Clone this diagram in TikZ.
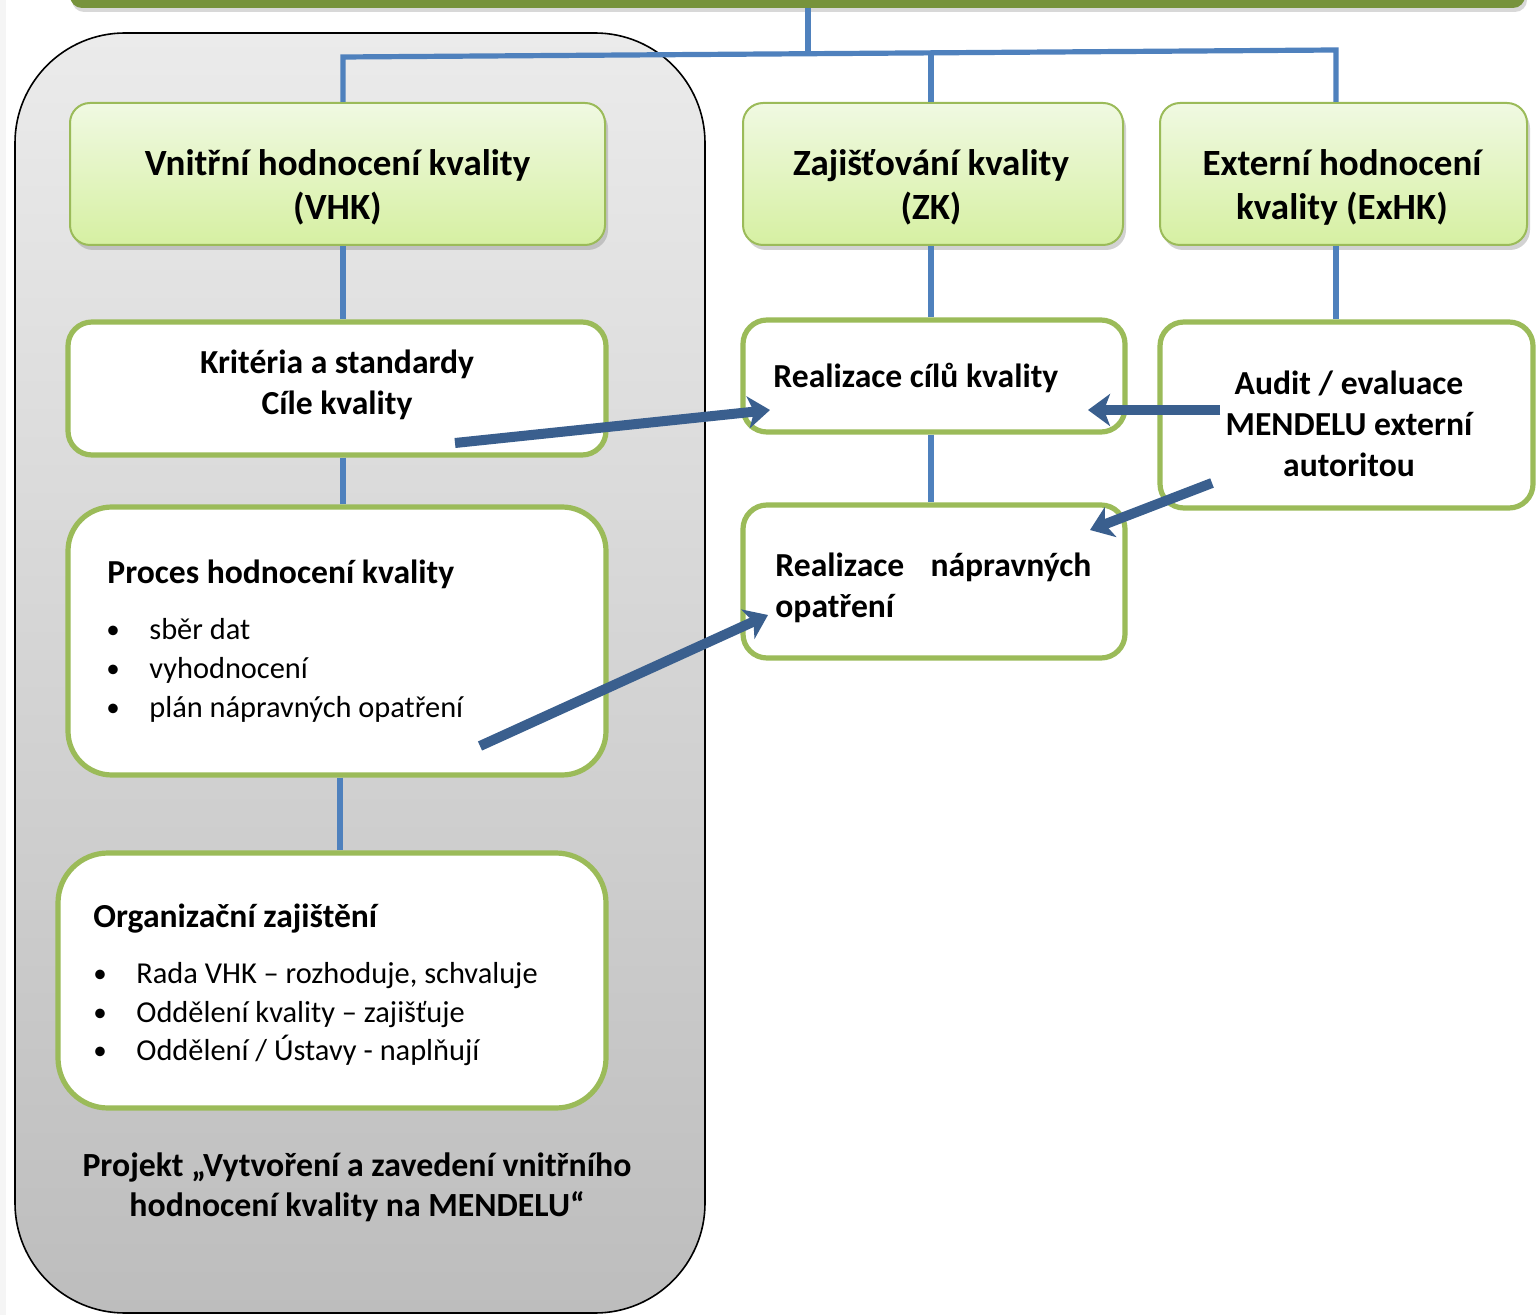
\documentclass[tikz,border=0pt]{standalone}
\usepackage{fontspec}
\setmainfont{Carlito}
\usetikzlibrary{arrows.meta,shadows,calc}
\definecolor{barGreen}{HTML}{77933C}
\definecolor{boxGreen}{HTML}{9BBB59}
\definecolor{hdrTop}{HTML}{F0F9E2}
\definecolor{hdrBot}{HTML}{D6F0A2}
\definecolor{treeBlue}{HTML}{4F81BD}
\definecolor{arrBlue}{HTML}{3A5F8E}
\definecolor{grayTop}{HTML}{EBEBEB}
\definecolor{grayBot}{HTML}{BDBDBD}
\begin{document}
\begin{tikzpicture}[x=0.5pt,y=-0.5pt,
  hdrbox/.style={draw=boxGreen,line width=1pt,rounded corners=10pt,top color=hdrTop,bottom color=hdrBot,
    drop shadow={opacity=0.35,shadow xshift=1.5pt,shadow yshift=-2.5pt}},
  whitebox/.style={draw=boxGreen,line width=2.6pt,fill=white,rounded corners=#1},
  whitebox/.default=12pt,
  tree/.style={draw=treeBlue,line width=2.6pt},
  bigarrow/.style={draw=arrBlue,line width=5pt,-{Stealth[length=11pt,width=16pt,inset=3pt]}},
  hdrtxt/.style={font=\fontsize{18.5}{22}\selectfont\bfseries,align=center},
  boldtxt/.style={font=\fontsize{16.8}{20.5}\selectfont\bfseries,inner sep=0pt},
  normtxt/.style={font=\fontsize{15.2}{19.5}\selectfont,inner sep=0pt},
  bul/.style={font=\fontsize{13.5}{19.5}\selectfont,anchor=base}
]
\useasboundingbox (0,0) rectangle (1536,1315);
\fill[white] (0,0) rectangle (1536,1315);
\fill[gray!8] (0,0) rectangle (6,1315);

% top bar
\node[fill=barGreen,rounded corners=6pt,minimum width=727.5pt,minimum height=19pt,inner sep=0pt,
  drop shadow={opacity=0.3,shadow xshift=1pt,shadow yshift=-2pt}] (bar) at (797.5,-11) {};

% gray container
\node[draw=black,line width=0.8pt,top color=grayTop,bottom color=grayBot,rounded corners=55pt,
  minimum width=345pt,minimum height=640pt,inner sep=0pt] (cont) at (360,673) {};

% header boxes
\node[hdrbox,minimum width=267.5pt,minimum height=71pt] (vhk) at (337.5,174) {};
\node[hdrbox,minimum width=190pt,minimum height=71pt] (zk) at (933,174) {};
\node[hdrbox,minimum width=183.5pt,minimum height=71pt] (exhk) at (1343.5,174) {};
\node[hdrtxt] (vhkt) at (337.5,187) {Vnitřní hodnocení kvality\\(VHK)};
\node[hdrtxt] (zkt) at (931,187) {Zajišťování kvality\\(ZK)};
\node[hdrtxt] (exhkt) at (1342,187) {Externí hodnocení\\kvality (ExHK)};

% second row boxes
\node[whitebox,minimum width=269pt,minimum height=66.5pt] (krit) at (337,388.5) {};
\node[whitebox,minimum width=191pt,minimum height=56pt] (rcil) at (934,376) {};
\node[whitebox,minimum width=186.5pt,minimum height=93pt] (audit) at (1346.5,415) {};
\node[whitebox=22pt,minimum width=269pt,minimum height=134pt] (proc) at (337,641) {};
\node[whitebox,minimum width=191pt,minimum height=76.5pt] (rnap) at (934,581.5) {};
\node[whitebox=25pt,minimum width=274pt,minimum height=127.5pt] (org) at (332,980.5) {};

% texts
\node[boldtxt,align=center] (kritt) at (337,385) {Kritéria a standardy\\Cíle kvality};
\node[boldtxt,anchor=base west] (rcilt) at (773,388) {Realizace cílů kvality};
\node[boldtxt,align=center] (auditt) at (1349,424) {Audit / evaluace\\MENDELU externí\\autoritou};
\node[boldtxt,anchor=base west,align=left,text width=158pt] (rnapt) at (775,576.5)
  {Realizace\hfill nápravných\\opatření};

\node[boldtxt,anchor=base west] (proct) at (107,583) {Proces hodnocení kvality};
\node[bul] (pb1) at (113,638) {•};
\node[bul] (pb2) at (113,677) {•};
\node[bul] (pb3) at (113,716) {•};
\node[normtxt,anchor=base west] (p1) at (149,639.5) {sběr dat};
\node[normtxt,anchor=base west] (p2) at (149,678.5) {vyhodnocení};
\node[normtxt,anchor=base west] (p3) at (149,717.5) {plán nápravných opatření};

\node[boldtxt,anchor=base west] (orgt) at (93,927) {Organizační zajištění};
\node[bul] (ob1) at (100,982) {•};
\node[bul] (ob2) at (100,1021) {•};
\node[bul] (ob3) at (100,1059) {•};
\node[normtxt,anchor=base west] (o1) at (136,983.5) {Rada VHK – rozhoduje, schvaluje};
\node[normtxt,anchor=base west] (o2) at (136,1022.5) {Oddělení kvality – zajišťuje};
\node[normtxt,anchor=base west] (o3) at (136,1060.5) {Oddělení / Ústavy - naplňují};

\node[font=\fontsize{16.9}{20}\selectfont\bfseries,align=center] (proj) at (357,1187)
  {Projekt „Vytvoření a zavedení vnitřního\\hodnocení kvality na MENDELU“};

% tree connectors
\coordinate (xL) at (343,0);
\coordinate (xM) at (931,0);
\coordinate (xR) at (1336,0);
\coordinate (xB) at (340,0);
\coordinate (jL) at (343,57);
\coordinate (jM) at (931,52.5);
\coordinate (jR) at (1336,50);
\coordinate (jT) at (808,53.5);
\draw[tree] (bar.south -| jT) -- (jT);
\draw[tree] (vhk.north -| xL) -- (jL) -- (jR) -- (exhk.north -| xR);
\draw[tree] (jM) -- (zk.north -| xM);
\draw[tree] (vhk.south -| xL) -- (krit.north -| xL);
\draw[tree] (zk.south -| xM) -- (rcil.north -| xM);
\draw[tree] (exhk.south -| xR) -- (audit.north -| xR);
\draw[tree] (krit.south -| xL) -- (proc.north -| xL);
\draw[tree] (rcil.south -| xM) -- (rnap.north -| xM);
\draw[tree] (proc.south -| xB) -- (org.north -| xB);

% big arrows
\coordinate (a1s) at (455,443);
\coordinate (a1e) at (770,410);
\coordinate (a2s) at (480,746);
\coordinate (a2e) at (768,615);
\coordinate (a3s) at (1220,410);
\coordinate (a3e) at (1088,410);
\coordinate (a4s) at (1212,483);
\coordinate (a4e) at (1090,530);
\draw[bigarrow] (a1s) -- (a1e);
\draw[bigarrow] (a2s) -- (a2e);
\draw[bigarrow] (a3s) -- (a3e);
\draw[bigarrow] (a4s) -- (a4e);
\end{tikzpicture}
\end{document}
